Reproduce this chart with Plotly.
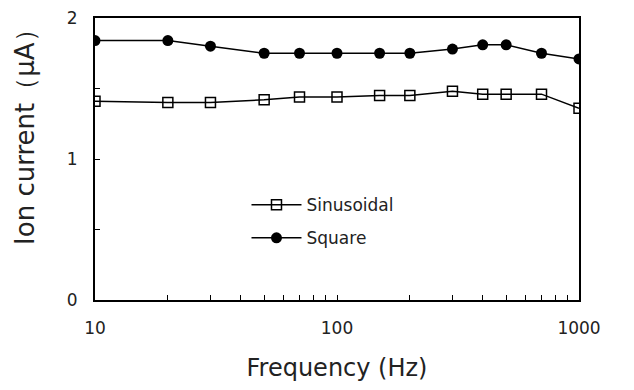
import plotly.graph_objects as go

freq = [10, 20, 30, 50, 70, 100, 150, 200, 300, 400, 500, 700, 1000]
sinusoidal = [1.41, 1.40, 1.40, 1.42, 1.44, 1.44, 1.45, 1.45, 1.48, 1.46, 1.46, 1.46, 1.36]
square = [1.84, 1.84, 1.80, 1.75, 1.75, 1.75, 1.75, 1.75, 1.78, 1.81, 1.81, 1.75, 1.71]
x_ticks = [10, 100, 1000]
y_ticks = [0, 1, 2]

font = "DejaVu Sans, Verdana, sans-serif"

fig = go.Figure()
fig.add_trace(go.Scatter(
    x=freq, y=sinusoidal, name="Sinusoidal", mode="lines+markers", legendgroup="a",
    line=dict(color="black", width=1.5),
    marker=dict(symbol="square-open", size=10, color="black", line=dict(width=1.5)),
))
fig.add_trace(go.Scatter(
    x=freq, y=square, name="Square", mode="lines+markers", legendgroup="b",
    line=dict(color="black", width=1.5),
    marker=dict(symbol="circle", size=11, color="black"),
))

fig.update_layout(
    width=626, height=382,
    margin=dict(l=87, r=55, t=10, b=90, autoexpand=False),
    paper_bgcolor="white", plot_bgcolor="white",
    font=dict(family=font, size=17, color="#222"),
    showlegend=True,
    legend=dict(x=0.313, y=0.40, xanchor="left", yanchor="top",
                bgcolor="rgba(0,0,0,0)", font=dict(size=17, color="#222"),
                traceorder="grouped", tracegroupgap=8, itemwidth=50),
    xaxis=dict(
        type="log", range=[1, 3], tickvals=x_ticks, ticktext=[str(v) for v in x_ticks],
        ticks="inside", ticklen=5, tickcolor="black",
        minor=dict(ticks="inside", ticklen=5, tickcolor="black", dtick="D1"),
        showline=True, linecolor="black", linewidth=2, mirror=True,
        showgrid=False, zeroline=False, automargin=False,
        ticklabelstandoff=12, ticklabeloverflow="allow",
        title=dict(text="Frequency (Hz)", font=dict(size=24), standoff=22),
    ),
    yaxis=dict(
        range=[0, 2], tickvals=y_ticks,
        ticks="inside", ticklen=5, tickcolor="black",
        minor=dict(ticks="inside", ticklen=5, tickcolor="black", dtick=0.5),
        showline=True, linecolor="black", linewidth=2, mirror=True,
        showgrid=False, zeroline=False, automargin=False,
        ticklabelstandoff=12, ticklabeloverflow="allow",
    ),
    annotations=[dict(
        text="Ion current（μA）", textangle=-90,
        xref="paper", yref="paper", x=-0.145, y=0.599,
        xanchor="center", yanchor="middle", showarrow=False,
        font=dict(size=26, color="#222"),
    )],
)

fig.write_html("out.html")
